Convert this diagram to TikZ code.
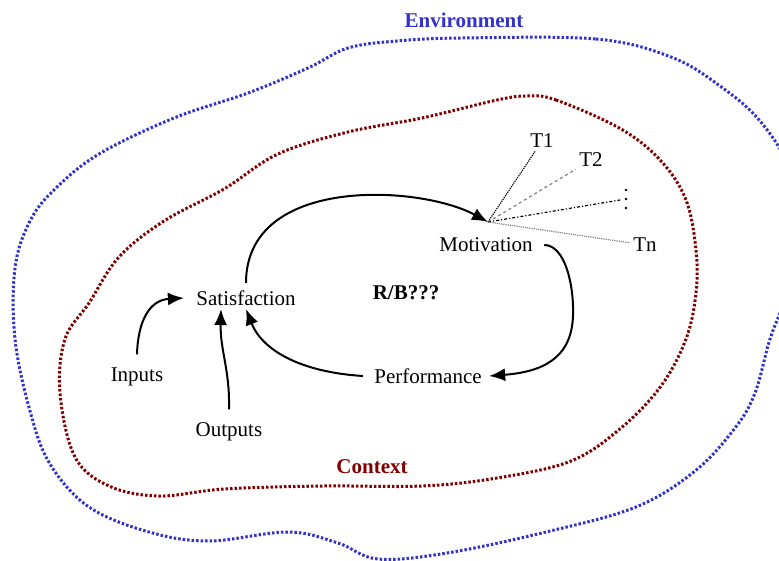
\documentclass[tikz,border=0pt]{standalone}
\usepackage{fontspec}
\setmainfont{Liberation Serif}
\usetikzlibrary{arrows.meta}
\definecolor{envblue}{RGB}{51,51,204}
\definecolor{ctxred}{RGB}{128,0,0}
\tikzset{
  lbl/.style={font=\fontsize{21}{25}\selectfont},
  flow/.style={line width=2pt,-{Latex[length=16pt,width=13pt]}},
  ray/.style={line width=1.2pt},
  border/.style={line width=3pt,dash pattern=on 2.5pt off 2pt},
}
\begin{document}
\begin{tikzpicture}[x=1pt,y=-1pt]
  \useasboundingbox (0,0) rectangle (779,560);
  % environment and context
  \begin{scope}
    \clip (0,0) rectangle (779,560);
    \draw[border,envblue] plot[smooth cycle,tension=0.6] coordinates {
      (462,38) (596,39) (671,57) (720,86) (760,121) (790,170) (798,230)
      (788,290) (770,339) (755,393) (735,428) (695,471) (636,507) (546,532)
      (447,553) (378,559) (338,543) (288,532) (209,541) (149,532) (89,507)
      (50,464) (30,411) (15,339) (15,268) (30,221) (55,189) (99,154)
      (174,118) (248,93) (308,68) (348,48) (397,41)};
  \end{scope}
  \draw[border,ctxred] plot[smooth cycle,tension=0.6] coordinates {
    (527,96) (556,100) (621,129) (661,161) (686,200) (696,250) (696,293)
    (686,339) (661,386) (621,428) (571,461) (497,478) (422,486) (323,486)
    (224,489) (159,496) (109,486) (75,457) (60,393) (65,339) (89,303)
    (119,257) (164,221) (224,189) (278,154) (348,132) (422,118) (497,100)};
  \node[lbl,font=\fontsize{21}{25}\selectfont\bfseries,text=envblue] (env) at (464,20) {Environment};
  \node[lbl,font=\fontsize{21}{25}\selectfont\bfseries,text=ctxred] (ctx) at (372,467) {Context};
  % the loop
  \node[lbl] (mot) at (486,245) {Motivation};
  \node[lbl] (sat) at (246,298) {Satisfaction};
  \node[lbl] (perf) at (428,376) {Performance};
  \node[lbl] (inp) at (137,377) {Inputs};
  \node[lbl] (outp) at (229,432) {Outputs};
  \node[lbl,font=\fontsize{21}{25}\selectfont\bfseries] (rb) at (406,293) {R/B???};
  % tasks
  \coordinate (hub) at (488,222);
  \node[lbl] (t1) at (542,141) {T1};
  \node[lbl] (t2) at (591,160) {T2};
  \node[inner sep=0pt,minimum width=10pt,minimum height=24pt] (tdots) at (626,199) {};
  \foreach \dy in {-9,0,9}
    \fill ([yshift=\dy pt]tdots.center) circle (1.4pt);
  \node[lbl] (tn) at (645,245) {Tn};
  \draw[ray,densely dotted] (hub) -- (t1);
  \draw[ray,gray,dashed] (hub) -- (t2);
  \draw[ray,dash dot] (hub) -- (tdots);
  \draw[ray,gray,densely dotted] (hub) -- (tn);
  % arrows
  \draw[flow] ([yshift=4pt]sat.north) .. controls (246,175) and (420,185) .. (hub);
  \draw[flow] ([xshift=8pt]mot.east) .. controls (565,245) and (574,285) .. (573,315)
    .. controls (572,360) and (540,372) .. ([xshift=4pt]perf.east);
  \draw[flow] ([xshift=-8pt]perf.west) .. controls (300,372) and (262,350) .. (sat.south);
  \draw[flow] ([yshift=10pt]inp.north) .. controls (138,320) and (150,300) .. ([xshift=-9pt]sat.west);
  \draw[flow] ([yshift=10pt]outp.north) .. controls (230,370) and (220,350) .. ([xshift=-25pt]sat.south);
\end{tikzpicture}
\end{document}
